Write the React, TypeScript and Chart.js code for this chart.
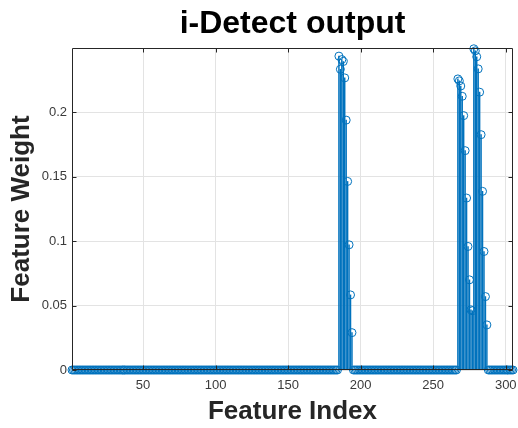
import React, { useEffect, useRef } from 'react';
import { Chart, registerables } from 'chart.js';

Chart.register(...registerables);

const TITLE = 'i-Detect output';
const X_LABEL = 'Feature Index';
const Y_LABEL = 'Feature Weight';

const X_MIN = 1;
const X_MAX = 305;
const Y_MIN = 0;
const Y_MAX = 0.25;

const X_TICKS = [50, 100, 150, 200, 250, 300];
const X_TICK_LABELS = ['50', '100', '150', '200', '250', '300'];
const Y_TICKS = [0, 0.05, 0.1, 0.15, 0.2];
const Y_TICK_LABELS = ['0', '0.05', '0.1', '0.15', '0.2'];

// Feature weights for features 1..305
const featureWeight: number[] = [
  // 1-20
  0, 0, 0, 0, 0, 0, 0, 0, 0, 0, 0, 0, 0, 0, 0, 0, 0, 0, 0, 0,
  // 21-40
  0, 0, 0, 0, 0, 0, 0, 0, 0, 0, 0, 0, 0, 0, 0, 0, 0, 0, 0, 0,
  // 41-60
  0, 0, 0, 0, 0, 0, 0, 0, 0, 0, 0, 0, 0, 0, 0, 0, 0, 0, 0, 0,
  // 61-80
  0, 0, 0, 0, 0, 0, 0, 0, 0, 0, 0, 0, 0, 0, 0, 0, 0, 0, 0, 0,
  // 81-100
  0, 0, 0, 0, 0, 0, 0, 0, 0, 0, 0, 0, 0, 0, 0, 0, 0, 0, 0, 0,
  // 101-120
  0, 0, 0, 0, 0, 0, 0, 0, 0, 0, 0, 0, 0, 0, 0, 0, 0, 0, 0, 0,
  // 121-140
  0, 0, 0, 0, 0, 0, 0, 0, 0, 0, 0, 0, 0, 0, 0, 0, 0, 0, 0, 0,
  // 141-160
  0, 0, 0, 0, 0, 0, 0, 0, 0, 0, 0, 0, 0, 0, 0, 0, 0, 0, 0, 0,
  // 161-180
  0, 0, 0, 0, 0, 0, 0, 0, 0, 0, 0, 0, 0, 0, 0, 0, 0, 0, 0, 0,
  // 181-200
  0, 0, 0, 0, 0.2437, 0.2335, 0.241, 0.2395, 0.2268, 0.194,
  0.1464, 0.0972, 0.0583, 0.029, 0, 0, 0, 0, 0, 0,
  // 201-220
  0, 0, 0, 0, 0, 0, 0, 0, 0, 0, 0, 0, 0, 0, 0, 0, 0, 0, 0, 0,
  // 221-240
  0, 0, 0, 0, 0, 0, 0, 0, 0, 0, 0, 0, 0, 0, 0, 0, 0, 0, 0, 0,
  // 241-260
  0, 0, 0, 0, 0, 0, 0, 0, 0, 0, 0, 0, 0, 0, 0, 0, 0, 0, 0, 0,
  // 261-280
  0, 0, 0, 0, 0, 0, 0.226, 0.2245, 0.2205, 0.2125,
  0.1975, 0.1703, 0.1335, 0.0959, 0.07, 0.0467, 0.046, 0.2494, 0.2478, 0.2432,
  // 281-300
  0.2338, 0.2157, 0.1827, 0.1387, 0.092, 0.057, 0.035, 0, 0, 0,
  0, 0, 0, 0, 0, 0, 0, 0, 0, 0,
  // 301-305
  0, 0, 0, 0, 0,
];

const featureIndex: number[] = featureWeight.map((_, i) => i + 1);

const STEM_COLOR = '#0072BD';
const AXIS_COLOR = '#262626';
const TICK_COLOR = '#3a3a3a';
const GRID_COLOR = '#e3e3e3';
const FONT = '"Liberation Sans", Arial, Helvetica, sans-serif';

const boxPlugin = {
  id: 'matlabBox',
  afterDatasetsDraw(chart: any) {
    const { ctx, chartArea, scales } = chart;
    const l = Math.round(chartArea.left) + 0.5;
    const r = Math.round(chartArea.right) - 0.5;
    const t = Math.round(chartArea.top) + 0.5;
    const b = Math.round(chartArea.bottom) - 0.5;
    ctx.save();
    ctx.strokeStyle = AXIS_COLOR;
    ctx.lineWidth = 1;
    ctx.beginPath();
    ctx.rect(l, t, r - l, b - t);
    const tl = 4;
    scales.x.ticks.forEach((tk: any) => {
      const px = Math.round(scales.x.getPixelForValue(tk.value)) + 0.5;
      ctx.moveTo(px, b);
      ctx.lineTo(px, b - tl);
      ctx.moveTo(px, t);
      ctx.lineTo(px, t + tl);
    });
    scales.y.ticks.forEach((tk: any) => {
      const py = Math.round(scales.y.getPixelForValue(tk.value)) + 0.5;
      ctx.moveTo(l, py);
      ctx.lineTo(l + tl, py);
      ctx.moveTo(r, py);
      ctx.lineTo(r - tl, py);
    });
    ctx.stroke();
    ctx.restore();
  },
};

export default function App() {
  const canvasRef = useRef<HTMLCanvasElement | null>(null);

  useEffect(() => {
    document.body.style.margin = '0';
    const canvas = canvasRef.current;
    if (!canvas) return;
    const points = featureIndex.map((x, i) => ({ x, y: featureWeight[i] }));
    const chart = new Chart(canvas, {
      type: 'bar',
      data: {
        datasets: [
          {
            type: 'line',
            data: points,
            showLine: false,
            pointStyle: 'circle',
            pointRadius: 4,
            pointBorderWidth: 1,
            pointBorderColor: STEM_COLOR,
            pointBackgroundColor: 'rgba(0,0,0,0)',
            clip: false,
            order: 0,
          } as any,
          {
            type: 'bar',
            data: points,
            backgroundColor: STEM_COLOR,
            borderWidth: 0,
            barThickness: 0.8,
            order: 1,
          } as any,
        ],
      },
      options: {
        animation: false,
        responsive: false,
        maintainAspectRatio: false,
        layout: { padding: { top: 0, right: 5, bottom: 0, left: 0 } },
        plugins: {
          legend: { display: false },
          tooltip: { enabled: false },
          title: {
            display: true,
            text: TITLE,
            fullSize: false,
            color: '#000',
            font: { family: FONT, size: 32, weight: 'bold' },
            padding: { top: 4.6, bottom: 5 },
          },
        },
        scales: {
          x: {
            type: 'linear',
            min: X_MIN,
            max: X_MAX,
            offset: false,
            afterBuildTicks: (s: any) => {
              s.ticks = X_TICKS.map((v) => ({ value: v }));
            },
            afterFit: (s: any) => {
              s.height = 58;
              s.paddingLeft = 0;
              s.paddingRight = 0;
            },
            grid: { color: GRID_COLOR, drawTicks: false, offset: false },
            border: { display: false },
            ticks: {
              autoSkip: false,
              maxRotation: 0,
              padding: 8,
              color: TICK_COLOR,
              font: { family: FONT, size: 13 },
              callback: (v: any) => X_TICK_LABELS[X_TICKS.indexOf(Number(v))] ?? '',
            },
            title: {
              display: true,
              text: X_LABEL,
              color: AXIS_COLOR,
              font: { family: FONT, size: 26, weight: 'bold' },
              padding: { top: 0, bottom: 1 },
            },
          },
          y: {
            type: 'linear',
            min: Y_MIN,
            max: Y_MAX,
            afterBuildTicks: (s: any) => {
              s.ticks = Y_TICKS.map((v) => ({ value: v }));
            },
            afterFit: (s: any) => {
              s.width = 72;
              s.paddingTop = 0;
              s.paddingBottom = 0;
            },
            grid: { color: GRID_COLOR, drawTicks: false },
            border: { display: false },
            ticks: {
              autoSkip: false,
              padding: 5,
              color: TICK_COLOR,
              font: { family: FONT, size: 13 },
              callback: (v: any) => Y_TICK_LABELS[Y_TICKS.indexOf(Number(v))] ?? '',
            },
            title: {
              display: true,
              text: Y_LABEL,
              color: AXIS_COLOR,
              font: { family: FONT, size: 26, weight: 'bold' },
              padding: { top: 6, bottom: 0 },
            },
          },
        },
      },
      plugins: [boxPlugin],
    });
    return () => chart.destroy();
  }, []);

  return (
    <div style={{ position: 'fixed', left: 0, top: 0, width: 518, height: 428, background: '#fff' }}>
      <canvas ref={canvasRef} width={518} height={428} style={{ display: 'block', width: 518, height: 428 }} />
    </div>
  );
}
